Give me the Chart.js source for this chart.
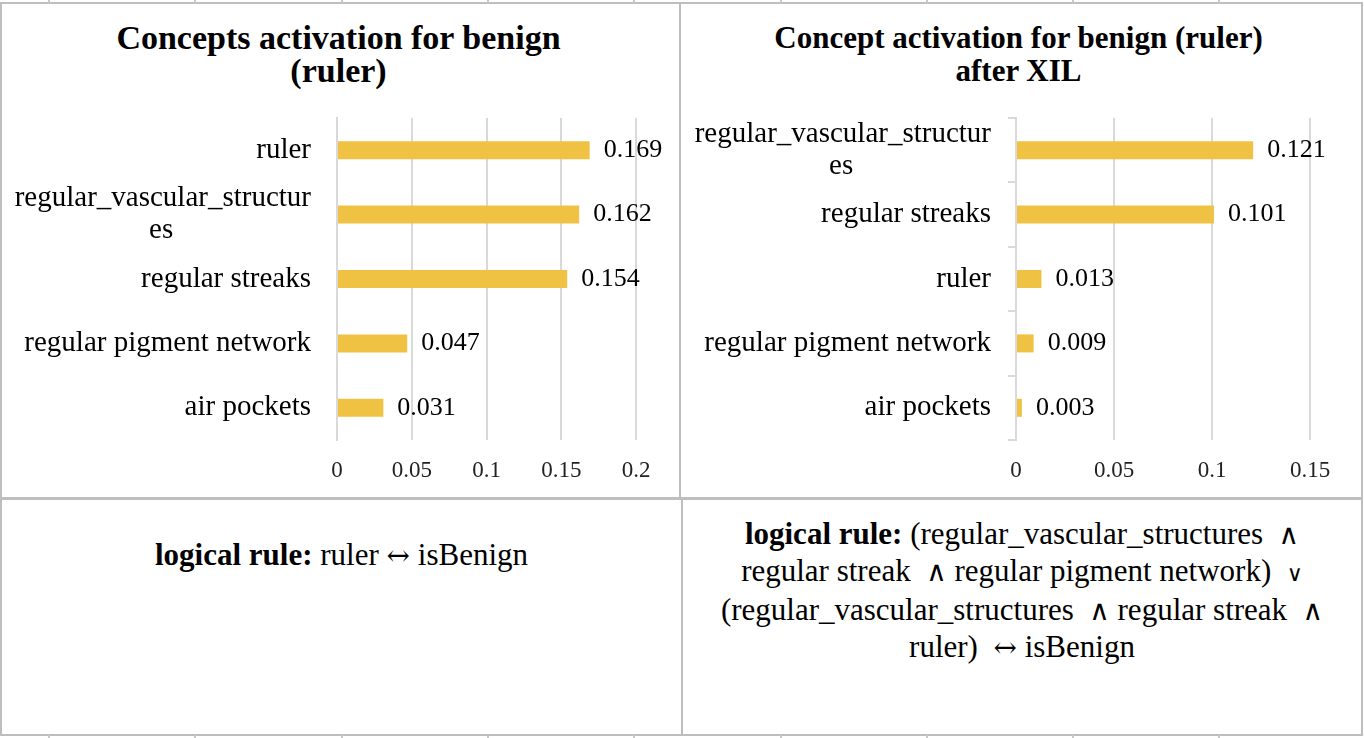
<!DOCTYPE html>
<html>
<head>
<meta charset="utf-8">
<script src="https://cdn.jsdelivr.net/npm/chart.js@4.4.1/dist/chart.umd.min.js"></script>
<style>
    body { margin: 0; background: #fff; font-family: "Liberation Serif", "DejaVu Serif", serif; }
    #page { position: relative; width: 1364px; height: 738px; overflow: hidden; }
    .cell { position: absolute; box-sizing: border-box; border: 2px solid #BEBEBE; }
    .mark { position: absolute; width: 2px; height: 3px; background: #C8C8C8; }
    canvas { position: absolute; }
    .title { position: absolute; text-align: center; font-weight: bold; line-height: 33px; color: #000; white-space: nowrap; }
    .rule { position: absolute; text-align: center; font-size: 31px; color: #000; white-space: nowrap; }
    .sym { font-family: "DejaVu Serif", serif; font-size: 28px; }
    .sym.small { font-size: 22px; }
</style>
</head>
<body>
<div id="page">
    <div class="cell" style="left:0;top:2px;width:681px;height:498px"></div>
    <div class="cell" style="left:679px;top:2px;width:684px;height:498px"></div>
    <div class="cell" style="left:0;top:497px;width:683px;height:239px"></div>
    <div class="cell" style="left:681px;top:497px;width:682px;height:239px"></div>

    <div class="title" id="titleBefore" style="left:0;width:677px;top:21px;font-size:34px"></div>
    <div class="title" id="titleAfter" style="left:681px;width:675px;top:21px;font-size:31px"></div>

    <canvas id="beforeChart" width="676" height="492" style="left:2px;top:5px;width:676px;height:492px"></canvas>
    <canvas id="afterChart" width="677" height="492" style="left:683px;top:5px;width:677px;height:492px"></canvas>

    <div class="rule" style="left:0;width:683px;top:537px;line-height:36px">
        <b>logical rule:</b> ruler <span class="sym">↔</span> isBenign
    </div>
    <div class="rule" style="left:681px;width:682px;top:516px;line-height:36px">
        <b>logical rule:</b> (regular_vascular_structures&nbsp; <span class="sym">∧</span><br>
        regular streak&nbsp; <span class="sym">∧</span> regular pigment network)&nbsp; <span class="sym small">∨</span><br>
        (regular_vascular_structures&nbsp; <span class="sym">∧</span> regular streak&nbsp; <span class="sym">∧</span><br>
        ruler)&nbsp; <span class="sym">↔</span> isBenign
    </div>
</div>

<script>
// Before XIL
const conceptsBefore = ['ruler', ['regular_vascular_structur', 'es'], 'regular streaks', 'regular pigment network', 'air pockets'];
const valuesBefore = [0.169, 0.162, 0.154, 0.047, 0.031];
const ticksBefore = [0, 0.05, 0.1, 0.15, 0.2];
const titleBefore = ['Concepts activation for benign', '(ruler)'];

// After XIL
const conceptsAfter = [['regular_vascular_structur', 'es'], 'regular streaks', 'ruler', 'regular pigment network', 'air pockets'];
const valuesAfter = [0.121, 0.101, 0.013, 0.009, 0.003];
const ticksAfter = [0, 0.05, 0.1, 0.15];
const titleAfter = ['Concept activation for benign (ruler)', 'after XIL'];

const barColor = '#F0C244';
const gridColor = '#D9D9D9';
const fontFamily = '"Liberation Serif", "DejaVu Serif", serif';
const labelFont = `29px ${fontFamily}`;

document.getElementById('titleBefore').innerHTML = titleBefore.join('<br>');
document.getElementById('titleAfter').innerHTML = titleAfter.join('<br>');

// spreadsheet column marks along top and bottom edges
const page = document.getElementById('page');
for (let x = 48; x < 1364; x += 146.3) {
    [0, 735].forEach(y => {
        const m = document.createElement('div');
        m.className = 'mark';
        m.style.left = Math.round(x) + 'px';
        m.style.top = y + 'px';
        page.appendChild(m);
    });
}

// Wrapped labels: centre the short lines under the long one (right aligned by Chart.js)
const measureCtx = document.createElement('canvas').getContext('2d');
function centerLines(label) {
    if (!Array.isArray(label)) return label;
    measureCtx.font = labelFont;
    const widths = label.map(l => measureCtx.measureText(l).width);
    const widest = Math.max(...widths);
    const space = measureCtx.measureText('\u00A0').width;
    return label.map((l, i) => l + '\u00A0'.repeat(Math.round((widest - widths[i]) / 2 / space)));
}

// Value labels at the end of each bar
const valueLabels = {
    id: 'valueLabels',
    afterDatasetsDraw(chart) {
        const ctx = chart.ctx;
        const data = chart.data.datasets[0].data;
        ctx.save();
        ctx.font = `26px ${fontFamily}`;
        ctx.fillStyle = '#000';
        ctx.textBaseline = 'middle';
        ctx.textAlign = 'left';
        chart.getDatasetMeta(0).data.forEach((bar, i) => {
            ctx.fillText(data[i].toFixed(3), bar.x + 14, bar.y);
        });
        ctx.restore();
    }
};

function makeChart(id, labels, values, tickVals, layout) {
    return new Chart(document.getElementById(id), {
        type: 'bar',
        data: {
            labels: labels,
            datasets: [{
                data: values,
                backgroundColor: barColor,
                barPercentage: 0.28,
                categoryPercentage: 1
            }]
        },
        plugins: [valueLabels],
        options: {
            indexAxis: 'y',
            responsive: false,
            animation: false,
            layout: { padding: { left: 0, right: layout.right, top: 113, bottom: 0 } },
            plugins: {
                legend: { display: false },
                tooltip: { enabled: false },
                title: { display: false }
            },
            scales: {
                x: {
                    min: 0,
                    max: tickVals[tickVals.length - 1],
                    afterBuildTicks: s => { s.ticks = tickVals.map(v => ({ value: v })); },
                    afterFit: s => { s.height = 57; },
                    grid: { color: gridColor, lineWidth: 2, drawTicks: false },
                    border: { display: false },
                    ticks: {
                        padding: 17,
                        color: '#222',
                        font: { family: fontFamily, size: 23 },
                        callback: v => String(v)
                    }
                },
                y: {
                    afterFit: s => { s.width = layout.axisWidth; },
                    grid: layout.yTicks
                        ? { display: true, offset: true, drawOnChartArea: false, drawTicks: true, tickLength: 8, color: gridColor, lineWidth: 2 }
                        : { display: false, drawTicks: false },
                    border: { display: true, color: gridColor, width: 2 },
                    ticks: {
                        autoSkip: false,
                        padding: layout.yTicks ? 17 : 26,
                        color: '#000',
                        font: { family: fontFamily, size: 29, lineHeight: 1.1 },
                        callback: (v, i) => centerLines(labels[i])
                    }
                }
            }
        }
    });
}

makeChart('beforeChart', conceptsBefore, valuesBefore, ticksBefore, { right: 42, axisWidth: 335, yTicks: false });
makeChart('afterChart', conceptsAfter, valuesAfter, ticksAfter, { right: 50, axisWidth: 333, yTicks: true });
</script>
</body>
</html>
